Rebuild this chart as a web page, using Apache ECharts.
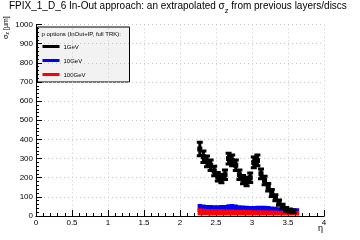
<!DOCTYPE html>
<html lang="en">
<head>
<meta charset="UTF-8">
<title>FPIX_1_D_6 In-Out</title>
<script src="https://cdn.jsdelivr.net/npm/echarts@6/dist/echarts.min.js"></script>
<style>
  html, body { margin: 0; padding: 0; background: #fff; }
  #chart { width: 360px; height: 240px; }
</style>
</head>
<body>
<div id="chart"></div>
<script>
// eta bin centres (bin width 0.05)
const eta = [2.275, 2.325, 2.375, 2.425, 2.475, 2.525, 2.575, 2.625, 2.675, 2.725,
             2.775, 2.825, 2.875, 2.925, 2.975, 3.025, 3.075, 3.125, 3.175, 3.225,
             3.275, 3.325, 3.375, 3.425, 3.475, 3.525, 3.575, 3.625];
const halfBin = 0.03;

// sigma_z [um], 1 GeV
const sigma1GeV = [350, 310, 285, 265, 235, 205, 195, 215, 300, 290,
                   265, 215, 190, 180, 200, 280, 290, 220, 185, 150,
                   120, 95, 70, 50, 35, 28, 24];
const err1GeV = [35, 30, 28, 28, 25, 22, 22, 25, 28, 28,
                 28, 25, 22, 22, 25, 28, 28, 25, 22, 20,
                 18, 16, 14, 12, 10, 8, 7];

// 10 GeV
const sigma10GeV = [42, 40, 39, 38, 37, 37, 38, 38, 41, 42, 40, 37, 36, 36,
                    35, 35, 35, 36, 35, 35, 34, 32, 31, 30, 30, 29, 28, 28];
const err10GeV = [21, 20, 19, 19, 19, 19, 19, 20, 21, 21, 20, 19, 19, 18,
                  17, 17, 18, 18, 18, 17, 16, 16, 15, 15, 14, 13, 12, 12];

// 100 GeV
const sigma100GeV = [22, 21, 20, 19, 19, 19, 19, 18, 18, 18, 18, 18, 17, 17,
                     17, 16, 16, 16, 16, 16, 16, 16, 15, 15, 15, 15, 15, 15];
const err100GeV = [18, 17, 16, 16, 16, 16, 16, 16, 16, 16, 15, 15, 15, 14,
                   14, 14, 14, 14, 14, 13, 13, 13, 13, 13, 13, 13, 13, 13];

const legendNames = ['1GeV', '10GeV', '100GeV'];
const colors = ['#000000', '#0000ff', '#ff0000'];

function points(vals, errs) {
    return vals.map((v, i) => [eta[i], v, errs[i]]);
}

// error bars: horizontal bar + vertical bar + caps
function errorBars(params, api) {
    const x = api.value(0), y = api.value(1), e = api.value(2);
    const p = api.coord([x, y]);
    const l = api.coord([x - halfBin, y]);
    const r = api.coord([x + halfBin, y]);
    const top = api.coord([x, y + e]);
    const bot = api.coord([x, y - e]);
    const st = {stroke: '#000', lineWidth: 3};
    return {
        type: 'group',
        children: [
            {type: 'line', shape: {x1: l[0], y1: p[1], x2: r[0], y2: p[1]}, style: st},
            {type: 'line', shape: {x1: p[0], y1: top[1], x2: p[0], y2: bot[1]}, style: st},
            {type: 'line', shape: {x1: p[0] - 3, y1: top[1], x2: p[0] + 3, y2: top[1]}, style: st},
            {type: 'line', shape: {x1: p[0] - 3, y1: bot[1], x2: p[0] + 3, y2: bot[1]}, style: st},
            {type: 'rect', shape: {x: p[0] - 2.5, y: p[1] - 2.5, width: 5, height: 5}, style: {fill: '#000'}}
        ]
    };
}

// filled error boxes for the high-momentum graphs
function errorBoxes(color) {
    return function (params, api) {
        const x = api.value(0), y = api.value(1), e = api.value(2);
        const a = api.coord([x - halfBin, y + e]);
        const b = api.coord([x + halfBin, y - e]);
        return {
            type: 'rect',
            shape: {x: a[0], y: a[1], width: b[0] - a[0], height: b[1] - a[1]},
            style: {fill: color}
        };
    };
}

const font = 'Liberation Sans, Arial, sans-serif';
const chart = echarts.init(document.getElementById('chart'), null, {renderer: 'canvas'});

const option = {
    animation: false,
    title: {
        text: '{n|FPIX_1_D_6 In-Out approach: an extrapolated σ}{sub|z}{n| from previous layers/discs}',
        left: 9, top: 1, padding: 0,
        textStyle: {
            fontFamily: font, fontSize: 10, fontWeight: 'normal', color: '#000',
            rich: {
                n: {fontFamily: font, fontSize: 10, color: '#000', verticalAlign: 'top', lineHeight: 12},
                sub: {fontFamily: font, fontSize: 7.5, color: '#000', verticalAlign: 'top',
                      lineHeight: 12, padding: [6, 0, 0, 0]}
            }
        }
    },
    grid: {left: 36, right: 36, top: 24.5, bottom: 24},
    xAxis: [{
        type: 'value', min: 0, max: 4, interval: 0.5,
        axisLine: {lineStyle: {color: '#000', width: 1}},
        axisTick: {inside: true, length: 6, lineStyle: {color: '#000'}},
        minorTick: {show: true, splitNumber: 5, length: 3, lineStyle: {color: '#000'}},
        axisLabel: {fontFamily: font, fontSize: 8, color: '#000', margin: 3,
                    formatter: v => String(v)},
        splitLine: {show: true, lineStyle: {color: '#c8c8c8', type: [1, 3]}}
    }, {
        type: 'value', min: 0, max: 4, position: 'top',
        axisLine: {show: true, lineStyle: {color: '#000', type: [3, 2]}},
        axisTick: {show: false}, axisLabel: {show: false}, splitLine: {show: false}
    }],
    yAxis: [{
        type: 'value', min: 0, max: 1000, interval: 100,
        axisLine: {show: true, lineStyle: {color: '#000', width: 1}},
        axisTick: {show: true, inside: true, length: 6, lineStyle: {color: '#000'}},
        minorTick: {show: true, splitNumber: 5, length: 3, lineStyle: {color: '#000'}},
        axisLabel: {fontFamily: font, fontSize: 8, color: '#000', margin: 3,
                    formatter: v => String(v)},
        splitLine: {show: true, lineStyle: {color: '#c8c8c8', type: [1, 3]}}
    }, {
        type: 'value', min: 0, max: 1000, position: 'right',
        axisLine: {show: true, lineStyle: {color: '#000', type: [3, 2]}},
        axisTick: {show: false}, axisLabel: {show: false}, splitLine: {show: false}
    }],
    series: [
        {
            name: legendNames[1], type: 'custom', renderItem: errorBoxes(colors[1]),
            encode: {x: 0, y: 1}, data: points(sigma10GeV, err10GeV), clip: true
        },
        {
            name: legendNames[2], type: 'custom', renderItem: errorBoxes(colors[2]),
            encode: {x: 0, y: 1}, data: points(sigma100GeV, err100GeV), clip: true
        },
        {
            name: legendNames[0], type: 'custom', renderItem: errorBars,
            encode: {x: 0, y: 1}, data: points(sigma1GeV, err1GeV), clip: true
        }
    ],
    graphic: [
        // y axis title, reading bottom to top
        {
            type: 'group', x: 6, y: 39, rotation: Math.PI / 2,
            children: [{
                type: 'text', x: 0, y: 0,
                style: {
                    text: 'σ{s|z} [µm]', fill: '#000', font: '7px ' + font,
                    rich: {s: {fontSize: 5.5, fontFamily: font, fill: '#000', padding: [3, 0, 0, 0]}},
                    verticalAlign: 'middle', align: 'left'
                }
            }]
        },
        // x axis title
        {type: 'text', x: 318, y: 224, style: {text: 'η', fill: '#000', font: '9px ' + font}},
        // legend box
        {
            type: 'group', left: 37, top: 26.5,
            children: [
                {type: 'rect', shape: {x: 0, y: 0, width: 92, height: 55},
                 style: {fill: '#f2f2f2', stroke: '#000', lineWidth: 1}},
                {type: 'text', x: 4, y: 4,
                 style: {text: 'p options (InOut+IP, full TRK):', fill: '#000', font: '6px ' + font}},
                ...legendNames.map((n, i) => ({
                    type: 'group', children: [
                        {type: 'line', shape: {x1: 5, y1: 19.5 + i * 14, x2: 22, y2: 19.5 + i * 14},
                         style: {stroke: colors[i], lineWidth: 3}},
                        {type: 'text', x: 26, y: 17 + i * 14,
                         style: {text: n, fill: '#000', font: '6px ' + font}}
                    ]
                }))
            ]
        }
    ]
};
chart.setOption(option);
</script>
</body>
</html>
